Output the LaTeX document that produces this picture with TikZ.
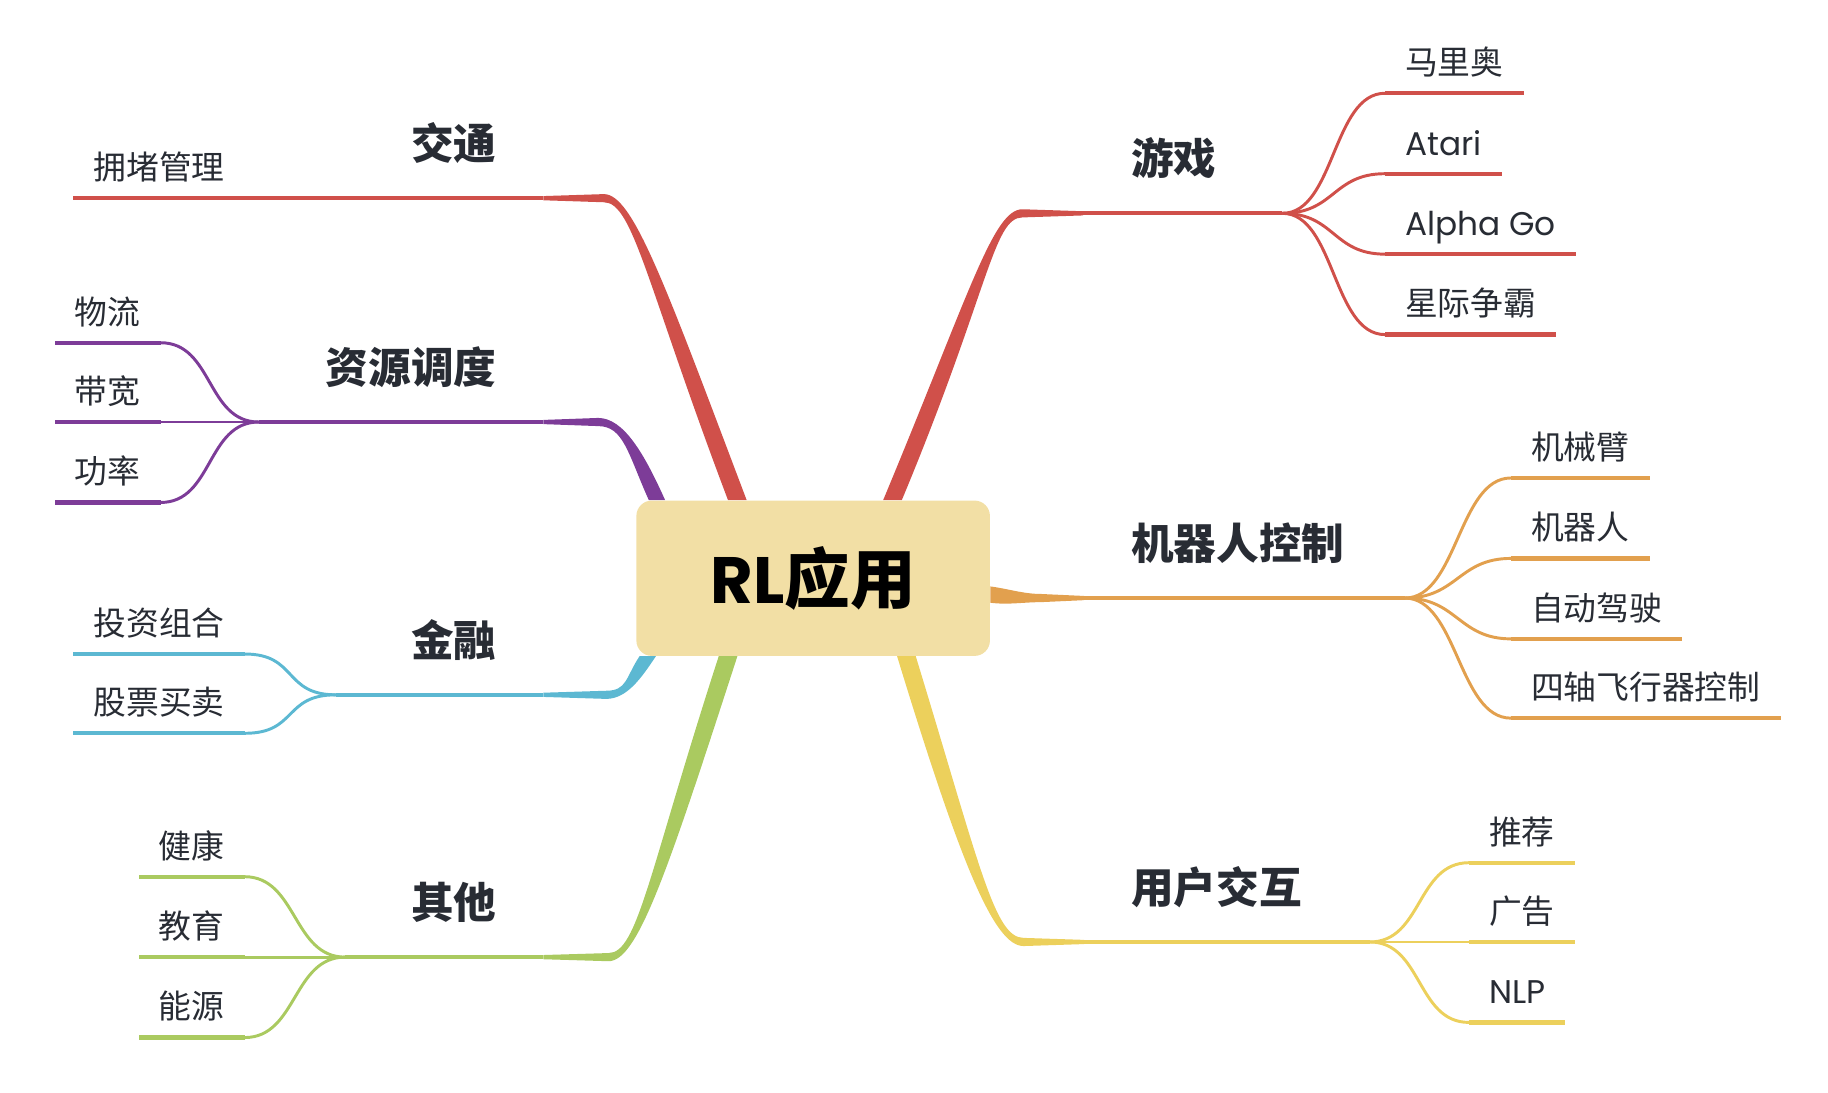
\documentclass[tikz,border=0pt]{standalone}
\usepackage{fontspec}
\usepackage{tikz}
\usepackage{xcolor}
\usetikzlibrary{calc}
\usetikzlibrary{backgrounds}
\setmainfont{Poppins}
\newfontfamily\cjk{Noto Sans CJK SC}
\definecolor{rootcolor}{RGB}{242, 223, 165}
\definecolor{inkcolor}{RGB}{40, 44, 52}
\definecolor{gamecolor}{RGB}{208, 80, 74}
\definecolor{robotcolor}{RGB}{226, 160, 78}
\definecolor{usercolor}{RGB}{236, 208, 92}
\definecolor{trafficcolor}{RGB}{208, 80, 74}
\definecolor{resourcecolor}{RGB}{125, 60, 152}
\definecolor{financecolor}{RGB}{92, 184, 210}
\definecolor{othercolor}{RGB}{170, 202, 96}
\tikzstyle{rootbox} = [
	fill=rootcolor,
	rounded corners=0.33cm,
	minimum width=7.58cm,
	minimum height=3.33cm,
	text=black,
	font=\fontsize{40}{44}\selectfont\bfseries
]
\tikzstyle{topic} = [
	inner sep=0pt,
	text=inkcolor,
	font=\cjk\bfseries\fontsize{26}{30}\selectfont
]
\tikzstyle{leaf} = [
	inner sep=0pt,
	anchor=base west,
	text=inkcolor,
	font=\cjk\fontsize{20}{24}\selectfont
]
\tikzstyle{limb} = [
	line width=2.3pt
]
\tikzstyle{twig} = [
	line width=1.8pt
]
\tikzstyle{leafline} = [
	line width=2.6pt
]
% tapered branch: colour, start, elbow, stub end, control at start, control at elbow, half width at start
\newcommand{\trunk}[7]{
	\fill[#1] ($(#2)+#7$) .. controls +#5 and +#6 .. ($(#3)+(0,-3.5)$) -- ($(#4)+(0,-1.8)$)
		-- ($(#4)+(0,1.8)$) -- ($(#3)+(0,3.5)$) .. controls +#6 and +#5 .. ($(#2)-#7$) -- cycle;
}
% twig and underline of a leaf on the right / on the left
\newcommand{\rleaf}[3]{
	\draw[twig, #1] (#2) .. controls +(45,0) and +(-45,0) .. ($(#3.base west)+(-17,16)$);
	\draw[leafline, #1] ($(#3.base west)+(-17,16)$) -- ($(#3.base east)+(17,16)$);
}
\newcommand{\lleaf}[3]{
	\draw[twig, #1] (#2) .. controls +(-45,0) and +(45,0) .. ($(#3.base east)+(17,16)$);
	\draw[leafline, #1] ($(#3.base east)+(17,16)$) -- ($(#3.base west)+(-17,16)$);
}

\begin{document}
\begin{tikzpicture}[x=0.025cm, y=-0.025cm]
	\useasboundingbox (0,0) rectangle (1568,937);

	%
	% Root
	\node[rootbox] (root) at (697.5,496) {RL{\cjk 应用}};

	%
	% Topics
	\node[topic, anchor=base west] (game) at (970,150) {游戏};
	\node[topic, anchor=base west] (robot) at (970,480) {机器人控制};
	\node[topic, anchor=base west] (user) at (970,775) {用户交互};
	\node[topic, anchor=base east] (traffic) at (426,137) {交通};
	\node[topic, anchor=base east] (resource) at (426,329) {资源调度};
	\node[topic, anchor=base east] (finance) at (426,563) {金融};
	\node[topic, anchor=base east] (other) at (426,788) {其他};

	%
	% Leaves
	\node[leaf] (game_1) at (1205,64) {马里奥};
	\node[leaf] (game_2) at (1205,133) {\rmfamily Atari};
	\node[leaf] (game_3) at (1205,202) {\rmfamily Alpha Go};
	\node[leaf] (game_4) at (1205,271) {星际争霸};

	\node[leaf] (robot_1) at (1313,394) {机械臂};
	\node[leaf] (robot_2) at (1313,463) {机器人};
	\node[leaf] (robot_3) at (1313,532) {自动驾驶};
	\node[leaf] (robot_4) at (1313,600) {四轴飞行器控制};

	\node[leaf] (user_1) at (1277,724) {推荐};
	\node[leaf] (user_2) at (1277,792) {广告};
	\node[leaf] (user_3) at (1277,861) {\rmfamily NLP};

	\node[leaf] (traffic_1) at (80,154) {拥堵管理};

	\node[leaf] (resource_1) at (64,278) {物流};
	\node[leaf] (resource_2) at (64,346) {带宽};
	\node[leaf] (resource_3) at (64,415) {功率};

	\node[leaf] (finance_1) at (80,545) {投资组合};
	\node[leaf] (finance_2) at (80,613) {股票买卖};

	\node[leaf] (other_1) at (136,736) {健康};
	\node[leaf] (other_2) at (136,805) {教育};
	\node[leaf] (other_3) at (136,874) {能源};

	%
	% Branch points
	\coordinate (game_s) at ($(root.north)+(68,0)$);
	\coordinate (game_e) at (877,183);
	\coordinate (game_t) at (929,183);
	\coordinate (game_f) at (1100,183);

	\coordinate (robot_s) at ($(root.east)+(0,14)$);
	\coordinate (robot_e) at (893,513);
	\coordinate (robot_t) at (930,513);
	\coordinate (robot_f) at (1205,513);

	\coordinate (user_s) at ($(root.south)+(80,0)$);
	\coordinate (user_e) at (878,808);
	\coordinate (user_t) at (930,808);
	\coordinate (user_f) at (1175,808);

	\coordinate (traffic_s) at ($(root.north)+(-65,0)$);
	\coordinate (traffic_e) at (518,170);
	\coordinate (traffic_t) at (466,170);

	\coordinate (resource_s) at ($(root.north west)+(18,0)$);
	\coordinate (resource_e) at (513,362);
	\coordinate (resource_t) at (466,362);
	\coordinate (resource_f) at (222,362);

	\coordinate (finance_s) at ($(root.south west)+(10,0)$);
	\coordinate (finance_e) at (520,596);
	\coordinate (finance_t) at (466,596);
	\coordinate (finance_f) at (288,596);

	\coordinate (other_s) at ($(root.south)+(-73,0)$);
	\coordinate (other_e) at (522,821);
	\coordinate (other_t) at (466,821);
	\coordinate (other_f) at (296,821);

	\begin{scope}[on background layer]
	%
	% Right branches
	\trunk{gamecolor}{game_s}{game_e}{game_t}{(75,-180)}{(-25,0)}{(-8,0)}
	\draw[limb, gamecolor] (game_t) -- (game_f);
	\rleaf{gamecolor}{game_f}{game_1}
	\rleaf{gamecolor}{game_f}{game_2}
	\rleaf{gamecolor}{game_f}{game_3}
	\rleaf{gamecolor}{game_f}{game_4}

	\trunk{robotcolor}{robot_s}{robot_e}{robot_t}{(15,2)}{(-15,0)}{(0,-7)}
	\draw[limb, robotcolor] (robot_t) -- (robot_f);
	\rleaf{robotcolor}{robot_f}{robot_1}
	\rleaf{robotcolor}{robot_f}{robot_2}
	\rleaf{robotcolor}{robot_f}{robot_3}
	\rleaf{robotcolor}{robot_f}{robot_4}

	\trunk{usercolor}{user_s}{user_e}{user_t}{(55,180)}{(-25,0)}{(8,0)}
	\draw[limb, usercolor] (user_t) -- (user_f);
	\rleaf{usercolor}{user_f}{user_1}
	\rleaf{usercolor}{user_f}{user_2}
	\rleaf{usercolor}{user_f}{user_3}

	%
	% Left branches
	\trunk{trafficcolor}{traffic_s}{traffic_e}{traffic_t}{(-70,-185)}{(25,0)}{(8,0)}
	\draw[limb, trafficcolor] (traffic_t) -- ($(traffic_1.base east)+(17,16)$);
	\draw[leafline, trafficcolor] ($(traffic_1.base east)+(17,16)$) -- ($(traffic_1.base west)+(-17,16)$);

	\trunk{resourcecolor}{resource_s}{resource_e}{resource_t}{(-18,-40)}{(22,0)}{(7,0)}
	\draw[limb, resourcecolor] (resource_t) -- (resource_f);
	\lleaf{resourcecolor}{resource_f}{resource_1}
	\lleaf{resourcecolor}{resource_f}{resource_2}
	\lleaf{resourcecolor}{resource_f}{resource_3}

	\trunk{financecolor}{finance_s}{finance_e}{finance_t}{(-12,18)}{(18,0)}{(-7,0)}
	\draw[limb, financecolor] (finance_t) -- (finance_f);
	\lleaf{financecolor}{finance_f}{finance_1}
	\lleaf{financecolor}{finance_f}{finance_2}

	\trunk{othercolor}{other_s}{other_e}{other_t}{(-60,185)}{(25,0)}{(-8,0)}
	\draw[limb, othercolor] (other_t) -- (other_f);
	\lleaf{othercolor}{other_f}{other_1}
	\lleaf{othercolor}{other_f}{other_2}
	\lleaf{othercolor}{other_f}{other_3}
	\end{scope}

\end{tikzpicture}
\end{document}
